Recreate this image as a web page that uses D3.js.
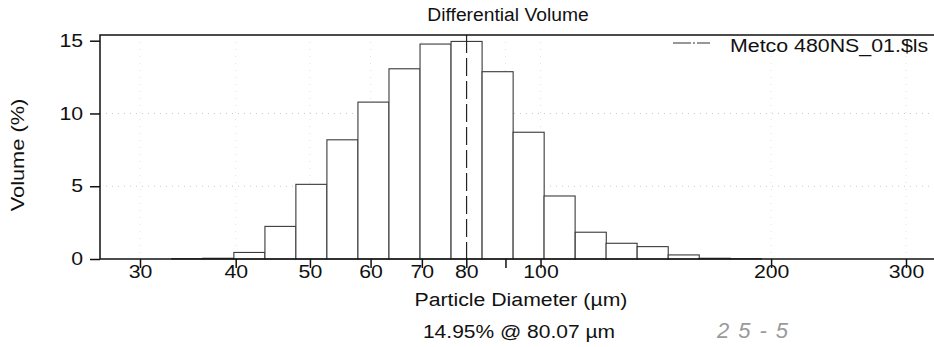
<!DOCTYPE html>
<meta charset='utf-8'>
<head>
  <title>Differential Volume</title>
  <style>
    body { margin: 0; background: #fff; }
    text { font-family: 'Liberation Sans', Arial, sans-serif; fill: #111; }
  </style>
</head>
<body>
  <div id='chart'></div>
</body>
<script src='https://cdn.jsdelivr.net/npm/d3@7'></script>
<script>

// LS channel sizes (um) and differential volume (%)
var sizes = [34.58, 37.97, 41.68, 45.76, 50.22, 55.13, 60.52, 66.44, 72.94, 80.07,
             87.90, 96.49, 105.9, 116.3, 127.6, 140.1, 153.8, 168.8, 185.4];
var volume = [0.02, 0.05, 0.45, 2.24, 5.13, 8.19, 10.78, 13.07, 14.77, 14.95,
              12.87, 8.71, 4.33, 1.84, 1.08, 0.85, 0.28, 0.05, 0.02];
var xTicks = [30, 40, 50, 60, 70, 80, 90, 100, 200, 300],
    xLabels = ['30', '40', '50', '60', '70', '80', '', '100', '200', '300'];
var yTicks = [0, 5, 10, 15];
var seriesName = 'Metco 480NS_01.$ls',
    cursorSize = 80.07,
    cursorValue = 14.95;

var width = 934,
    height = 347,
    plotLeft = 100,
    plotRight = 936,
    plotTop = 35,
    plotBottom = 259,
    ratio = 1.0978;

var x = d3.scaleLog().domain([30, 300]).range([140, 906]),
    y = d3.scaleLinear().domain([0, 15]).range([plotBottom, 40.7]);

var svg = d3.select('#chart').append('svg')
    .attr('width', width)
    .attr('height', height);

// stretch text along its direction (the scanned font runs wide)
function widen(sel, k) {
  sel.each(function() {
    var w = this.getComputedTextLength();
    d3.select(this).attr('textLength', w * k).attr('lengthAdjust', 'spacingAndGlyphs');
  });
}

// faint dotted grid
svg.selectAll('line.hgrid')
    .data([5, 10])
  .enter().append('line')
    .attr('class', 'hgrid')
    .attr('x1', plotLeft).attr('x2', plotRight)
    .attr('y1', function(d) { return y(d); })
    .attr('y2', function(d) { return y(d); })
    .style('stroke', '#c8c8c8')
    .style('stroke-dasharray', '1,5');

svg.selectAll('line.vgrid')
    .data(xTicks)
  .enter().append('line')
    .attr('class', 'vgrid')
    .attr('x1', function(d) { return x(d); })
    .attr('x2', function(d) { return x(d); })
    .attr('y1', plotTop).attr('y2', plotBottom)
    .style('stroke', '#e2e2e2')
    .style('stroke-dasharray', '1,6');

// bars
var bins = sizes.map(function(s, i) { return { size: s, value: volume[i] }; });

svg.selectAll('rect.bar')
    .data(bins)
  .enter().append('rect')
    .attr('class', 'bar')
    .attr('x', function(d) { return x(d.size / Math.sqrt(ratio)); })
    .attr('width', function(d) { return x(d.size * Math.sqrt(ratio)) - x(d.size / Math.sqrt(ratio)); })
    .attr('y', function(d) { return y(d.value); })
    .attr('height', function(d) { return plotBottom - y(d.value); })
    .style('fill', '#fff')
    .style('stroke', '#3a3a3a')
    .style('stroke-width', 1.1);

// cursor line
svg.append('line')
    .attr('x1', x(cursorSize)).attr('x2', x(cursorSize))
    .attr('y1', plotTop).attr('y2', plotBottom)
    .style('stroke', '#222')
    .style('stroke-width', 1.2)
    .style('stroke-dasharray', '18,5');

// frame
svg.append('path')
    .attr('d', 'M' + plotRight + ',' + plotTop + 'H' + plotLeft + 'V' + plotBottom)
    .style('fill', 'none')
    .style('stroke', '#111')
    .style('stroke-width', 1.5);

var xAxis = svg.append('g')
    .attr('transform', 'translate(0,' + plotBottom + ')')
    .call(d3.axisBottom(x)
        .tickValues(xTicks)
        .tickFormat(function(d, i) { return xLabels[i]; })
        .tickSize(9)
        .tickPadding(-3));
xAxis.select('.domain').attr('d', 'M' + plotLeft + ',0H' + plotRight);

var yAxis = svg.append('g')
    .attr('transform', 'translate(' + plotLeft + ',0)')
    .call(d3.axisLeft(y)
        .tickValues(yTicks)
        .tickSize(10)
        .tickPadding(7));
yAxis.select('.domain').remove();

svg.selectAll('.tick line, .domain').style('stroke', '#111').style('stroke-width', 1.5);
svg.selectAll('.tick text')
    .attr('font-family', null)
    .style('font-size', '18px')
    .style('fill', '#111');
widen(svg.selectAll('.tick text'), 1.18);

// titles
widen(svg.append('text')
    .attr('x', 508).attr('y', 20.5)
    .attr('text-anchor', 'middle')
    .style('font-size', '18px')
    .text('Differential Volume'), 1.07);

widen(svg.append('text')
    .attr('x', 521).attr('y', 306)
    .attr('text-anchor', 'middle')
    .style('font-size', '18px')
    .text('Particle Diameter (\u00b5m)'), 1.18);

widen(svg.append('text')
    .attr('x', 519).attr('y', 338)
    .attr('text-anchor', 'middle')
    .style('font-size', '18px')
    .text(cursorValue.toFixed(2) + '% @ ' + cursorSize.toFixed(2) + ' \u00b5m'), 1.166);

widen(svg.append('text')
    .attr('transform', 'translate(24,155) rotate(-90)')
    .attr('text-anchor', 'middle')
    .style('font-size', '18px')
    .text('Volume (%)'), 1.21);

// legend
svg.append('line')
    .attr('x1', 673).attr('x2', 710)
    .attr('y1', 43).attr('y2', 43)
    .style('stroke', '#333')
    .style('stroke-width', 1.1)
    .style('stroke-dasharray', '18,2,2,2,20');

widen(svg.append('text')
    .attr('x', 730).attr('y', 52)
    .style('font-size', '18px')
    .text(seriesName), 1.186);

// handwritten note
svg.append('text')
    .attr('x', 717).attr('y', 338)
    .style('font-size', '22px')
    .style('font-style', 'italic')
    .style('fill', '#9a9a9a')
    .style('letter-spacing', '9px')
    .text('25-5');

</script>
